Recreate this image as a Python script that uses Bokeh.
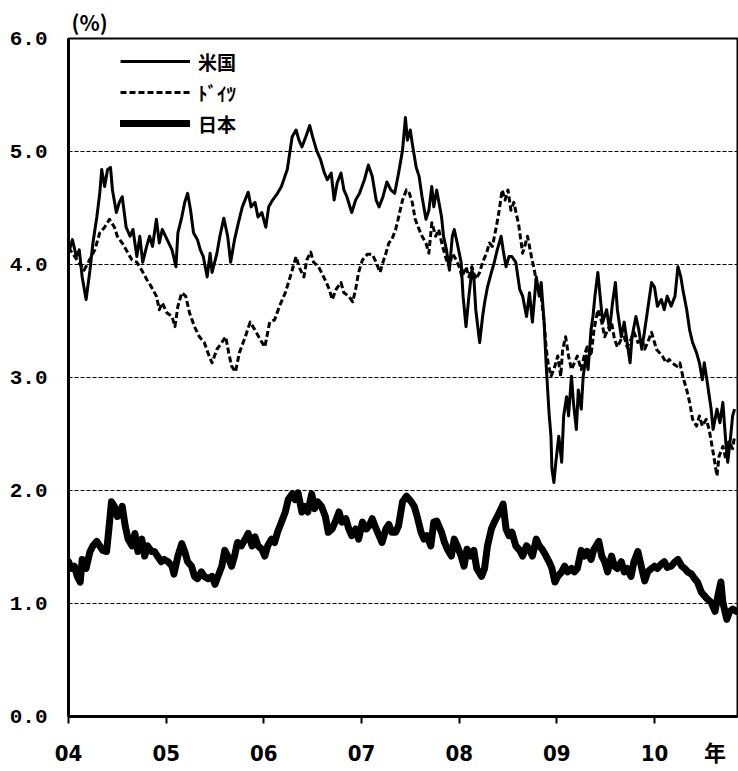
from bokeh.plotting import figure
from bokeh.models import FixedTicker, Legend, LegendItem, Range1d
from bokeh.embed import file_html
from bokeh.resources import INLINE

# ---- data (decimal years, % yield) ----
us_t = [2004.00, 2004.04, 2004.08, 2004.11, 2004.14, 2004.18, 2004.22, 2004.25, 2004.29, 2004.32,
        2004.34, 2004.37, 2004.40, 2004.43, 2004.45, 2004.49, 2004.52, 2004.55, 2004.59, 2004.63,
        2004.66, 2004.70, 2004.73, 2004.76, 2004.80, 2004.83, 2004.86, 2004.90, 2004.93, 2004.96,
        2005.01, 2005.06, 2005.10, 2005.12, 2005.16, 2005.19, 2005.22, 2005.25, 2005.28, 2005.32,
        2005.35, 2005.38, 2005.42, 2005.45, 2005.47, 2005.52, 2005.55, 2005.59, 2005.63, 2005.66,
        2005.70, 2005.74, 2005.78, 2005.84, 2005.87, 2005.91, 2005.94, 2005.98, 2006.02, 2006.05,
        2006.09, 2006.14, 2006.18, 2006.24, 2006.29, 2006.33, 2006.36, 2006.39, 2006.43, 2006.47,
        2006.50, 2006.54, 2006.58, 2006.62, 2006.65, 2006.69, 2006.72, 2006.75, 2006.79, 2006.82,
        2006.85, 2006.90, 2006.94, 2006.98, 2007.03, 2007.07, 2007.11, 2007.15, 2007.18, 2007.22,
        2007.26, 2007.30, 2007.34, 2007.38, 2007.42, 2007.45, 2007.47, 2007.50, 2007.52, 2007.56,
        2007.59, 2007.62, 2007.66, 2007.69, 2007.72, 2007.74, 2007.77, 2007.82, 2007.84, 2007.87,
        2007.90, 2007.93, 2007.95, 2007.98, 2008.02, 2008.04, 2008.07, 2008.10, 2008.13, 2008.15,
        2008.17, 2008.21, 2008.24, 2008.26, 2008.29, 2008.33, 2008.36, 2008.39, 2008.43, 2008.45,
        2008.48, 2008.51, 2008.54, 2008.58, 2008.62, 2008.65, 2008.69, 2008.72, 2008.75, 2008.79,
        2008.82, 2008.84, 2008.87, 2008.89, 2008.90, 2008.92, 2008.94, 2008.95, 2008.97, 2008.99,
        2009.02, 2009.05, 2009.07, 2009.10, 2009.12, 2009.15, 2009.17, 2009.20, 2009.22, 2009.25,
        2009.27, 2009.30, 2009.32, 2009.35, 2009.37, 2009.39, 2009.42, 2009.45, 2009.47, 2009.51,
        2009.54, 2009.57, 2009.60, 2009.62, 2009.66, 2009.69, 2009.72, 2009.75, 2009.77, 2009.81,
        2009.84, 2009.87, 2009.90, 2009.93, 2009.97, 2010.00, 2010.03, 2010.07, 2010.10, 2010.13,
        2010.17, 2010.21, 2010.24, 2010.27, 2010.29, 2010.33, 2010.36, 2010.39, 2010.43, 2010.46,
        2010.49, 2010.51, 2010.54, 2010.58, 2010.60, 2010.64, 2010.67, 2010.70, 2010.73, 2010.75,
        2010.78, 2010.80, 2010.82]
us_v = [4.10, 4.22, 4.07, 4.13, 3.89, 3.69, 3.95, 4.19, 4.42, 4.63,
        4.84, 4.69, 4.84, 4.86, 4.66, 4.46, 4.55, 4.60, 4.33, 4.25,
        4.31, 4.07, 4.25, 4.02, 4.16, 4.25, 4.16, 4.40, 4.19, 4.31,
        4.22, 4.13, 3.98, 4.28, 4.42, 4.55, 4.63, 4.48, 4.28, 4.22,
        4.13, 4.07, 3.89, 4.10, 3.93, 4.10, 4.25, 4.41, 4.25, 4.02,
        4.22, 4.37, 4.51, 4.64, 4.51, 4.55, 4.42, 4.46, 4.33, 4.51,
        4.57, 4.63, 4.69, 4.84, 5.13, 5.19, 5.10, 5.04, 5.13, 5.23,
        5.13, 5.01, 4.93, 4.81, 4.75, 4.81, 4.57, 4.72, 4.81, 4.66,
        4.60, 4.46, 4.57, 4.63, 4.75, 4.88, 4.78, 4.57, 4.51, 4.60,
        4.73, 4.66, 4.63, 4.81, 5.01, 5.30, 5.10, 5.19, 5.07, 4.86,
        4.78, 4.60, 4.40, 4.48, 4.69, 4.51, 4.66, 4.42, 4.25, 4.13,
        3.95, 4.25, 4.31, 4.19, 4.02, 3.72, 3.45, 3.72, 3.95, 3.89,
        3.60, 3.31, 3.54, 3.66, 3.80, 3.93, 4.02, 4.13, 4.25, 4.13,
        3.98, 4.07, 4.07, 4.02, 3.78, 3.72, 3.54, 3.75, 3.49, 3.89,
        3.72, 3.84, 3.49, 3.13, 2.98, 2.69, 2.48, 2.19, 2.07, 2.25,
        2.48, 2.25, 2.66, 2.83, 2.66, 3.01, 2.78, 2.54, 2.89, 2.72,
        3.01, 3.19, 3.07, 3.42, 3.54, 3.72, 3.93, 3.66, 3.49, 3.60,
        3.42, 3.66, 3.84, 3.60, 3.36, 3.49, 3.31, 3.13, 3.36, 3.54,
        3.42, 3.25, 3.42, 3.60, 3.84, 3.80, 3.63, 3.69, 3.60, 3.72,
        3.63, 3.72, 3.98, 3.89, 3.78, 3.60, 3.42, 3.31, 3.22, 3.13,
        2.98, 3.13, 2.96, 2.72, 2.54, 2.72, 2.60, 2.78, 2.43, 2.25,
        2.48, 2.66, 2.72]

de_t = [2004.00, 2004.08, 2004.16, 2004.27, 2004.32, 2004.37, 2004.42, 2004.47, 2004.50, 2004.55,
        2004.59, 2004.65, 2004.70, 2004.75, 2004.80, 2004.85, 2004.90, 2004.93, 2004.96, 2005.01,
        2005.06, 2005.09, 2005.12, 2005.16, 2005.20, 2005.24, 2005.29, 2005.34, 2005.39, 2005.44,
        2005.47, 2005.52, 2005.57, 2005.61, 2005.64, 2005.67, 2005.71, 2005.75, 2005.81, 2005.86,
        2005.91, 2005.96, 2006.01, 2006.06, 2006.11, 2006.16, 2006.22, 2006.27, 2006.33, 2006.36,
        2006.41, 2006.44, 2006.48, 2006.51, 2006.56, 2006.59, 2006.64, 2006.67, 2006.70, 2006.74,
        2006.79, 2006.82, 2006.87, 2006.91, 2006.94, 2006.97, 2007.01, 2007.06, 2007.11, 2007.15,
        2007.19, 2007.22, 2007.25, 2007.28, 2007.31, 2007.35, 2007.38, 2007.42, 2007.46, 2007.49,
        2007.52, 2007.55, 2007.59, 2007.62, 2007.66, 2007.69, 2007.72, 2007.76, 2007.79, 2007.83,
        2007.87, 2007.90, 2007.93, 2007.97, 2008.00, 2008.03, 2008.07, 2008.10, 2008.13, 2008.17,
        2008.21, 2008.24, 2008.28, 2008.31, 2008.34, 2008.38, 2008.41, 2008.44, 2008.47, 2008.50,
        2008.53, 2008.56, 2008.61, 2008.65, 2008.70, 2008.74, 2008.77, 2008.80, 2008.84, 2008.87,
        2008.89, 2008.91, 2008.94, 2008.97, 2009.01, 2009.04, 2009.06, 2009.09, 2009.12, 2009.15,
        2009.18, 2009.21, 2009.25, 2009.28, 2009.31, 2009.35, 2009.38, 2009.42, 2009.46, 2009.49,
        2009.52, 2009.56, 2009.59, 2009.62, 2009.66, 2009.69, 2009.72, 2009.76, 2009.79, 2009.83,
        2009.87, 2009.90, 2009.93, 2009.97, 2009.99, 2010.02, 2010.05, 2010.08, 2010.12, 2010.15,
        2010.18, 2010.23, 2010.26, 2010.29, 2010.33, 2010.36, 2010.39, 2010.43, 2010.46, 2010.49,
        2010.53, 2010.56, 2010.59, 2010.64, 2010.66, 2010.70, 2010.73, 2010.76, 2010.80, 2010.82]
de_v = [4.15, 4.05, 3.95, 4.13, 4.28, 4.33, 4.40, 4.33, 4.25, 4.19,
        4.13, 4.04, 4.02, 3.95, 3.87, 3.80, 3.72, 3.60, 3.66, 3.57,
        3.54, 3.45, 3.63, 3.75, 3.72, 3.57, 3.45, 3.36, 3.31, 3.19,
        3.13, 3.25, 3.31, 3.36, 3.22, 3.10, 3.05, 3.22, 3.36, 3.49,
        3.42, 3.34, 3.27, 3.49, 3.51, 3.63, 3.75, 3.89, 4.07, 3.98,
        3.89, 4.04, 4.11, 4.02, 3.98, 3.93, 3.84, 3.78, 3.69, 3.78,
        3.84, 3.75, 3.72, 3.67, 3.78, 3.93, 4.04, 4.09, 4.09, 4.02,
        3.93, 4.02, 4.10, 4.19, 4.22, 4.31, 4.42, 4.57, 4.66, 4.63,
        4.55, 4.40, 4.31, 4.25, 4.19, 4.10, 4.37, 4.25, 4.31, 4.16,
        4.04, 3.98, 4.10, 4.04, 3.98, 3.89, 3.98, 3.89, 3.98, 3.87,
        3.93, 4.02, 4.10, 4.19, 4.16, 4.33, 4.48, 4.66, 4.57, 4.66,
        4.48, 4.55, 4.35, 4.10, 4.25, 4.07, 3.95, 3.80, 3.72, 3.49,
        3.27, 3.13, 3.01, 3.07, 3.19, 3.01, 3.25, 3.36, 3.19, 3.07,
        3.13, 3.19, 3.07, 3.19, 3.27, 3.19, 3.42, 3.60, 3.49, 3.36,
        3.42, 3.49, 3.34, 3.27, 3.34, 3.36, 3.27, 3.34, 3.40, 3.31,
        3.34, 3.25, 3.31, 3.40, 3.34, 3.25, 3.22, 3.19, 3.13, 3.16,
        3.13, 3.10, 3.13, 3.01, 2.89, 2.78, 2.63, 2.57, 2.66, 2.57,
        2.63, 2.54, 2.39, 2.13, 2.30, 2.39, 2.28, 2.43, 2.37, 2.48]

jp_t = [2004.00, 2004.03, 2004.06, 2004.09, 2004.12, 2004.14, 2004.18, 2004.22, 2004.25, 2004.29,
        2004.32, 2004.35, 2004.39, 2004.41, 2004.44, 2004.47, 2004.50, 2004.53, 2004.55, 2004.58,
        2004.61, 2004.65, 2004.68, 2004.71, 2004.75, 2004.78, 2004.81, 2004.85, 2004.88, 2004.91,
        2004.95, 2004.98, 2005.02, 2005.06, 2005.08, 2005.12, 2005.16, 2005.19, 2005.22, 2005.26,
        2005.29, 2005.32, 2005.36, 2005.39, 2005.43, 2005.47, 2005.50, 2005.53, 2005.57, 2005.60,
        2005.63, 2005.67, 2005.70, 2005.73, 2005.77, 2005.81, 2005.84, 2005.88, 2005.91, 2005.94,
        2005.98, 2006.01, 2006.04, 2006.08, 2006.11, 2006.14, 2006.18, 2006.22, 2006.25, 2006.29,
        2006.32, 2006.35, 2006.39, 2006.42, 2006.45, 2006.49, 2006.52, 2006.55, 2006.59, 2006.63,
        2006.66, 2006.70, 2006.73, 2006.77, 2006.80, 2006.84, 2006.87, 2006.90, 2006.94, 2006.97,
        2007.01, 2007.05, 2007.08, 2007.11, 2007.15, 2007.18, 2007.21, 2007.25, 2007.28, 2007.31,
        2007.35, 2007.38, 2007.42, 2007.46, 2007.51, 2007.54, 2007.57, 2007.61, 2007.64, 2007.67,
        2007.71, 2007.74, 2007.77, 2007.82, 2007.85, 2007.88, 2007.92, 2007.95, 2007.98, 2008.02,
        2008.05, 2008.08, 2008.12, 2008.15, 2008.18, 2008.23, 2008.26, 2008.29, 2008.33, 2008.36,
        2008.39, 2008.43, 2008.45, 2008.48, 2008.51, 2008.54, 2008.58, 2008.62, 2008.65, 2008.69,
        2008.72, 2008.75, 2008.79, 2008.82, 2008.85, 2008.89, 2008.92, 2008.95, 2008.98, 2009.01,
        2009.05, 2009.08, 2009.11, 2009.15, 2009.18, 2009.21, 2009.25, 2009.28, 2009.31, 2009.35,
        2009.38, 2009.43, 2009.46, 2009.49, 2009.52, 2009.56, 2009.59, 2009.62, 2009.66, 2009.69,
        2009.72, 2009.76, 2009.79, 2009.83, 2009.87, 2009.90, 2009.93, 2009.97, 2010.00, 2010.03,
        2010.07, 2010.10, 2010.13, 2010.17, 2010.21, 2010.24, 2010.28, 2010.31, 2010.34, 2010.38,
        2010.41, 2010.44, 2010.48, 2010.51, 2010.54, 2010.58, 2010.62, 2010.65, 2010.68, 2010.70,
        2010.74, 2010.77, 2010.80, 2010.84]
jp_v = [1.37, 1.31, 1.33, 1.24, 1.19, 1.39, 1.31, 1.46, 1.51, 1.55,
        1.51, 1.47, 1.46, 1.63, 1.90, 1.86, 1.77, 1.81, 1.86, 1.69,
        1.57, 1.51, 1.62, 1.46, 1.57, 1.42, 1.51, 1.46, 1.46, 1.42,
        1.37, 1.39, 1.37, 1.33, 1.26, 1.42, 1.53, 1.46, 1.37, 1.33,
        1.24, 1.22, 1.28, 1.24, 1.22, 1.24, 1.17, 1.24, 1.33, 1.47,
        1.42, 1.33, 1.42, 1.54, 1.51, 1.57, 1.62, 1.51, 1.59, 1.51,
        1.48, 1.42, 1.51, 1.57, 1.54, 1.63, 1.72, 1.81, 1.92, 1.97,
        1.92, 1.98, 1.81, 1.86, 1.81, 1.97, 1.84, 1.90, 1.86, 1.77,
        1.63, 1.66, 1.72, 1.81, 1.72, 1.75, 1.66, 1.60, 1.66, 1.57,
        1.72, 1.66, 1.69, 1.75, 1.66, 1.60, 1.54, 1.66, 1.70, 1.63,
        1.63, 1.69, 1.90, 1.95, 1.90, 1.86, 1.77, 1.63, 1.57, 1.60,
        1.51, 1.72, 1.73, 1.63, 1.54, 1.48, 1.42, 1.57, 1.51, 1.42,
        1.33, 1.48, 1.42, 1.47, 1.31, 1.24, 1.31, 1.51, 1.66, 1.72,
        1.77, 1.84, 1.88, 1.66, 1.60, 1.63, 1.51, 1.47, 1.42, 1.51,
        1.48, 1.42, 1.57, 1.51, 1.48, 1.42, 1.37, 1.31, 1.19, 1.24,
        1.28, 1.33, 1.28, 1.31, 1.28, 1.31, 1.47, 1.42, 1.46, 1.39,
        1.48, 1.55, 1.42, 1.37, 1.28, 1.42, 1.33, 1.31, 1.37, 1.28,
        1.31, 1.24, 1.37, 1.46, 1.31, 1.20, 1.28, 1.31, 1.33, 1.31,
        1.35, 1.37, 1.32, 1.33, 1.37, 1.39, 1.33, 1.31, 1.28, 1.26,
        1.22, 1.19, 1.10, 1.07, 1.04, 1.01, 0.93, 1.07, 1.19, 1.01,
        0.86, 0.93, 0.95, 0.93]

series_names = ["米国", "ﾄﾞｲﾂ", "日本"]
x_ticks = [2004, 2005, 2006, 2007, 2008, 2009, 2010]
x_tick_labels = ["04", "05", "06", "07", "08", "09", "10"]
x_unit_pos = 2010.62          # where the "年" unit sits along the x axis
x_unit_text = "年"
y_ticks = [0, 1, 2, 3, 4, 5, 6]
y_tick_labels = ["0.0", "1.0", "2.0", "3.0", "4.0", "5.0", "6.0"]
grid_levels = [1, 2, 3, 4, 5]
unit_text = "(%)"

NUM_FONT = "'Liberation Sans Narrow', 'DejaVu Sans Condensed', 'Liberation Sans', 'Noto Sans CJK JP', sans-serif"
Y_FONT = "'Liberation Mono', 'DejaVu Sans Mono', monospace"
JP_FONT = "'Noto Sans CJK JP', sans-serif"

p = figure(width=738, height=768, output_backend="svg", toolbar_location=None,
           x_range=Range1d(2004.0, 2010.85), y_range=Range1d(0, 6),
           min_border_left=68, min_border_right=1, min_border_top=38, min_border_bottom=50)
p.background_fill_color = "white"
p.border_fill_color = "white"
p.outline_line_color = "black"
p.outline_line_width = 2

# unit label above the frame, as the plot title
p.title.text = unit_text
p.title.align = "left"
p.title.offset = 3
p.title.standoff = 4
p.title.text_font = JP_FONT
p.title.text_font_size = "21px"
p.title.text_font_style = "bold"
p.title.text_color = "black"

# x axis: labelled major positions (years + unit), tick marks drawn as minor ticks at years only
label_map = {t: l for t, l in zip(x_ticks, x_tick_labels)}
label_map[x_unit_pos] = x_unit_text
p.xaxis.ticker = FixedTicker(ticks=x_ticks + [x_unit_pos], minor_ticks=x_ticks)
p.xaxis.major_label_overrides = label_map
p.xaxis.axis_line_width = 3
p.xaxis.axis_line_color = "black"
p.xaxis.major_tick_line_color = None
p.xaxis.major_tick_out = 7
p.xaxis.major_tick_in = 0
p.xaxis.minor_tick_line_color = "black"
p.xaxis.minor_tick_line_width = 2
p.xaxis.minor_tick_out = 7
p.xaxis.minor_tick_in = 0
p.xaxis.major_label_standoff = 17
p.xaxis.major_label_text_font = NUM_FONT
p.xaxis.major_label_text_font_size = "22px"
p.xaxis.major_label_text_font_style = "bold"
p.xaxis.major_label_text_color = "black"

# y axis
p.yaxis.ticker = FixedTicker(ticks=y_ticks)
p.yaxis.major_label_overrides = {t: l for t, l in zip(y_ticks, y_tick_labels)}
p.yaxis.axis_line_width = 3
p.yaxis.axis_line_color = "black"
p.yaxis.major_tick_line_color = None
p.yaxis.major_tick_out = 0
p.yaxis.major_tick_in = 0
p.yaxis.minor_tick_line_color = None
p.yaxis.major_label_standoff = 21
p.yaxis.major_label_text_font = Y_FONT
p.yaxis.major_label_text_font_size = "21px"
p.yaxis.major_label_text_font_style = "bold"
p.yaxis.major_label_text_color = "black"

# grid
p.xgrid.visible = False
p.ygrid.ticker = FixedTicker(ticks=grid_levels)
p.ygrid.grid_line_color = "black"
p.ygrid.grid_line_width = 1.2
p.ygrid.grid_line_dash = "4 2"

# series
r_us = p.line(us_t, us_v, line_color="black", line_width=3, line_join="round")
r_de = p.line(de_t, de_v, line_color="black", line_width=3, line_dash="6 3", line_join="round")
r_jp = p.line(jp_t, jp_v, line_color="black", line_width=7, line_join="round", line_cap="round")

legend = Legend(items=[LegendItem(label=series_names[0], renderers=[r_us]),
                       LegendItem(label=series_names[1], renderers=[r_de]),
                       LegendItem(label=series_names[2], renderers=[r_jp])],
                location=(52, 579), glyph_width=70, glyph_height=28, spacing=3,
                padding=10, margin=0, label_standoff=8,
                label_text_font=JP_FONT, label_text_font_size="19px",
                label_text_font_style="bold", label_text_color="black",
                border_line_color=None, background_fill_alpha=0)
p.add_layout(legend)

open("out.html", "w").write(file_html(p, INLINE))
